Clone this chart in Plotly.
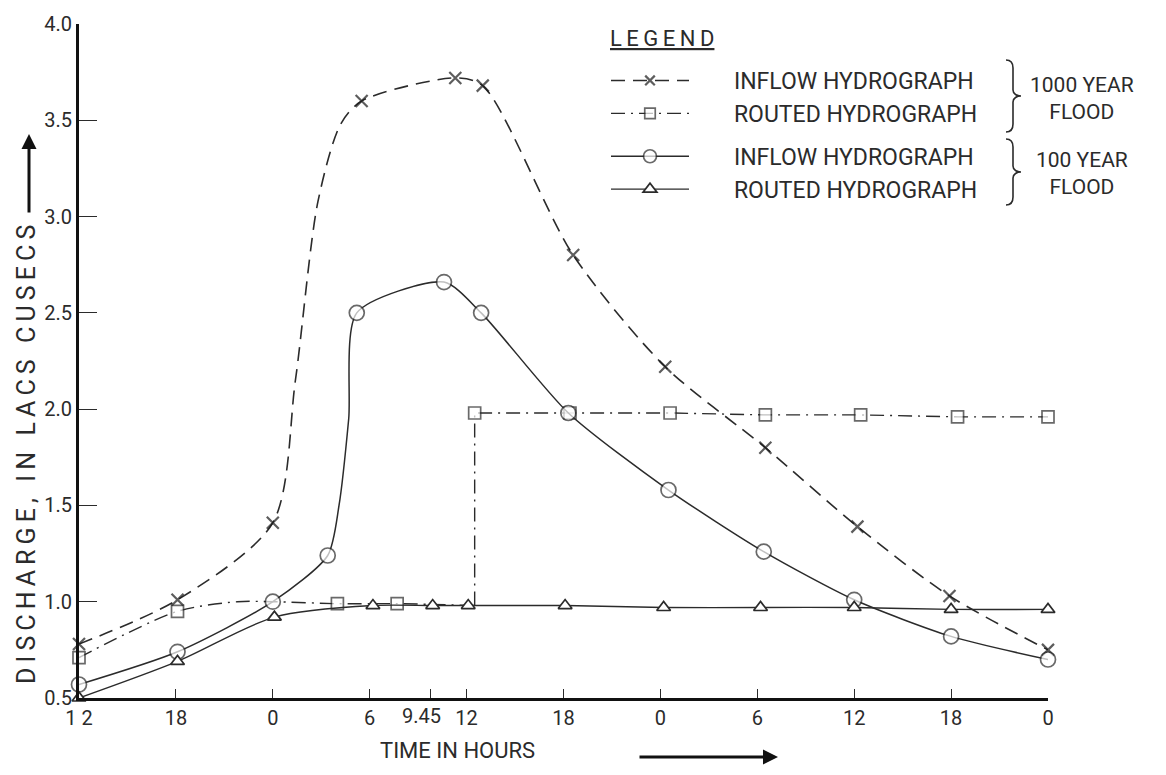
import plotly.graph_objects as go

# ---------------- data (hours counted from 12 h on the first day) ----------------
x_tick_vals = [0, 6, 12, 18, 24, 30, 36, 42, 48, 54, 60]
x_tick_text = ["1 2", "18", "0", "6", "12", "18", "0", "6", "12", "18", "0"]
x_special_val = 21.75
x_special_text = "9.45"
y_tick_vals = [0.5, 1.0, 1.5, 2.0, 2.5, 3.0, 3.5, 4.0]
y_tick_text = ["0.5", "1.0", "1.5", "2.0", "2.5", "3.0", "3.5", "4.0"]

# 1000 year flood - inflow hydrograph (x markers, dashed)
inflow1000_t = [0, 6.1, 12.0, 13.4, 14.8, 16.2, 17.5, 23.3, 25.0, 30.6, 36.3, 42.5, 48.2, 53.9, 60.0]
inflow1000_q = [0.78, 1.01, 1.41, 2.15, 3.08, 3.48, 3.60, 3.72, 3.68, 2.80, 2.22, 1.80, 1.39, 1.03, 0.75]
inflow1000_marked = [1, 1, 1, 0, 0, 0, 1, 1, 1, 1, 1, 1, 1, 1, 1]

# 1000 year flood - routed hydrograph (squares, dash-dot)
routed1000_t = [0, 6.1, 9.8, 12.0, 16.0, 19.7, 24.5]
routed1000_q = [0.71, 0.95, 1.00, 1.00, 0.99, 0.99, 0.98]
routed1000_marked = [1, 1, 0, 0, 1, 1, 0]
routed1000_jump_t = [24.5, 24.5, 30.4, 36.6, 42.5, 48.4, 54.4, 60.0]
routed1000_jump_q = [0.98, 1.98, 1.98, 1.98, 1.97, 1.97, 1.96, 1.96]
routed1000_jump_marked = [0, 1, 1, 1, 1, 1, 1, 1]

# 100 year flood - inflow hydrograph (circles, solid)
inflow100_t = [0, 6.1, 12.0, 15.4, 16.1, 16.7, 17.2, 22.6, 24.9, 30.3, 36.5, 42.4, 48.0, 54.0, 60.0]
inflow100_q = [0.57, 0.74, 1.00, 1.24, 1.50, 1.95, 2.50, 2.66, 2.50, 1.98, 1.58, 1.26, 1.01, 0.82, 0.70]
inflow100_marked = [1, 1, 1, 1, 0, 0, 1, 1, 1, 1, 1, 1, 1, 1, 1]

# 100 year flood - routed hydrograph (triangles, solid)
routed100_t = [0, 6.1, 12.1, 18.2, 21.9, 24.1, 30.1, 36.2, 42.2, 48.0, 54.0, 60.0]
routed100_q = [0.50, 0.69, 0.92, 0.98, 0.98, 0.98, 0.98, 0.97, 0.97, 0.97, 0.96, 0.96]

# ---------------- styling ----------------
INK = "#2b2b2b"
FONT = "Roboto"
W, H = 1166, 775
L, R, T, B = 79, 118, 24, 77
PW, PH = W - L - R, H - T - B
NB = "\u00a0" * 7
TS = "\u2009"


def px_x(p):
    return (p - L) / PW


def px_y(p):
    return (H - B - p) / PH


def sizes(flags, s):
    return [s if f else 0 for f in flags]


def spaced(s):
    return TS.join(list(s))


fig = go.Figure()

fig.add_trace(go.Scatter(
    x=inflow1000_t, y=inflow1000_q, mode="lines+markers",
    name=NB + "INFLOW HYDROGRAPH", legendgroup="g1000",
    line=dict(color=INK, width=1.6, dash="14px,8px", shape="spline", smoothing=0.8),
    marker=dict(symbol="x-thin", size=sizes(inflow1000_marked, 12),
                line=dict(color="#1a1a1a", width=2.2), color=INK),
    cliponaxis=False))

fig.add_trace(go.Scatter(
    x=routed1000_t, y=routed1000_q, mode="lines+markers",
    name="ROUTED", legendgroup="g1000", showlegend=False,
    line=dict(color=INK, width=1.4, dash="14px,6px,2px,6px", shape="spline", smoothing=0.8),
    marker=dict(symbol="square", size=sizes(routed1000_marked, 12), color="white",
                line=dict(color=INK, width=1.7)),
    cliponaxis=False))

fig.add_trace(go.Scatter(
    x=routed1000_jump_t, y=routed1000_jump_q, mode="lines+markers",
    name=NB + "ROUTED HYDROGRAPH", legendgroup="g1000",
    line=dict(color=INK, width=1.4, dash="14px,6px,2px,6px"),
    marker=dict(symbol="square", size=sizes(routed1000_jump_marked, 12), color="white",
                line=dict(color=INK, width=1.7)),
    cliponaxis=False))

fig.add_trace(go.Scatter(
    x=inflow100_t, y=inflow100_q, mode="lines+markers",
    name=NB + "INFLOW HYDROGRAPH", legendgroup="g100",
    line=dict(color=INK, width=1.5, shape="spline", smoothing=0.7),
    marker=dict(symbol="circle", size=sizes(inflow100_marked, 15), color="white",
                line=dict(color=INK, width=1.7)),
    cliponaxis=False))

fig.add_trace(go.Scatter(
    x=routed100_t, y=routed100_q, mode="lines+markers",
    name=NB + "ROUTED HYDROGRAPH", legendgroup="g100",
    line=dict(color=INK, width=1.4, shape="spline", smoothing=0.8),
    marker=dict(symbol="triangle-up", size=12, color="white",
                line=dict(color=INK, width=1.7)),
    cliponaxis=False))

fig.update_layout(
    width=W, height=H,
    margin=dict(l=L, r=R, t=T, b=B),
    paper_bgcolor="white", plot_bgcolor="white",
    font=dict(family=FONT, color=INK, size=20),
    showlegend=True,
    legend=dict(
        x=px_x(606), y=px_y(59), xanchor="left", yanchor="top",
        font=dict(size=23, color=INK), itemwidth=78,
        traceorder="grouped", tracegroupgap=10, bgcolor="rgba(0,0,0,0)"),
    xaxis=dict(
        range=[0, 60], tickmode="array", tickvals=x_tick_vals + [x_special_val],
        ticktext=x_tick_text + [""], ticks="inside", ticklen=9, tickwidth=1.4,
        tickcolor=INK, showline=True, linecolor="#111", linewidth=3,
        showgrid=False, zeroline=False, tickfont=dict(size=20, color=INK)),
    yaxis=dict(
        range=[0.5, 4.0], tickmode="array", tickvals=y_tick_vals, ticktext=y_tick_text,
        ticks="inside", ticklen=18, tickwidth=1.4, tickcolor=INK,
        showline=True, linecolor="#111", linewidth=3,
        showgrid=False, zeroline=False, tickfont=dict(size=20, color=INK)),
)

annotations = [
    dict(x=x_special_val, y=0, xref="x", yref="paper", text=x_special_text,
         showarrow=False, xanchor="center", yanchor="top", xshift=-9, yshift=-4,
         font=dict(size=20, color=INK)),
    dict(x=px_x(457), y=px_y(750), xref="paper", yref="paper", text="TIME IN HOURS",
         showarrow=False, xanchor="center", yanchor="middle", font=dict(size=22, color=INK)),
    dict(x=px_x(26), y=px_y(455), xref="paper", yref="paper",
         text=spaced("DISCHARGE, IN LACS CUSECS"),
         showarrow=False, textangle=-90, xanchor="center", yanchor="middle",
         font=dict(size=25, color=INK)),
    dict(x=px_x(662), y=px_y(38), xref="paper", yref="paper",
         text="<u>" + spaced("LEGEND") + "</u>",
         showarrow=False, xanchor="center", yanchor="middle", font=dict(size=22, color=INK)),
    # axis direction arrows
    dict(x=px_x(29), y=px_y(134), xref="paper", yref="paper", text="", showarrow=True,
         ax=0, ay=80, arrowhead=2, arrowsize=1.0, arrowwidth=3, arrowcolor="#111"),
    dict(x=px_x(778), y=px_y(757), xref="paper", yref="paper", text="", showarrow=True,
         ax=-140, ay=0, arrowhead=2, arrowsize=1.0, arrowwidth=3, arrowcolor="#111"),
    # group labels
    dict(x=px_x(1082), y=px_y(98), xref="paper", yref="paper", text="1000 YEAR<br>FLOOD",
         showarrow=False, xanchor="center", yanchor="middle", align="center",
         font=dict(size=21, color=INK)),
    dict(x=px_x(1082), y=px_y(173), xref="paper", yref="paper", text="100 YEAR<br>FLOOD",
         showarrow=False, xanchor="center", yanchor="middle", align="center",
         font=dict(size=21, color=INK)),
]
fig.update_layout(annotations=annotations)


def brace(h):
    hh = h / 2
    return (f"M -14 {hh} C -9 {hh} -7 {hh-3} -7 {hh-8} L -7 6 C -7 2 -3 0 1 0 "
            f"C -3 0 -7 -2 -7 -6 L -7 {-(hh-8)} C -7 {-(hh-3)} -9 {-hh} -14 {-hh}")


shapes = [
    dict(type="path", xref="paper", yref="paper", xsizemode="pixel", ysizemode="pixel",
         xanchor=px_x(1020), yanchor=px_y(96), path=brace(72),
         line=dict(color=INK, width=1.6)),
    dict(type="path", xref="paper", yref="paper", xsizemode="pixel", ysizemode="pixel",
         xanchor=px_x(1020), yanchor=px_y(172), path=brace(66),
         line=dict(color=INK, width=1.6)),
]
fig.update_layout(shapes=shapes)

fig.write_html("out.html")
